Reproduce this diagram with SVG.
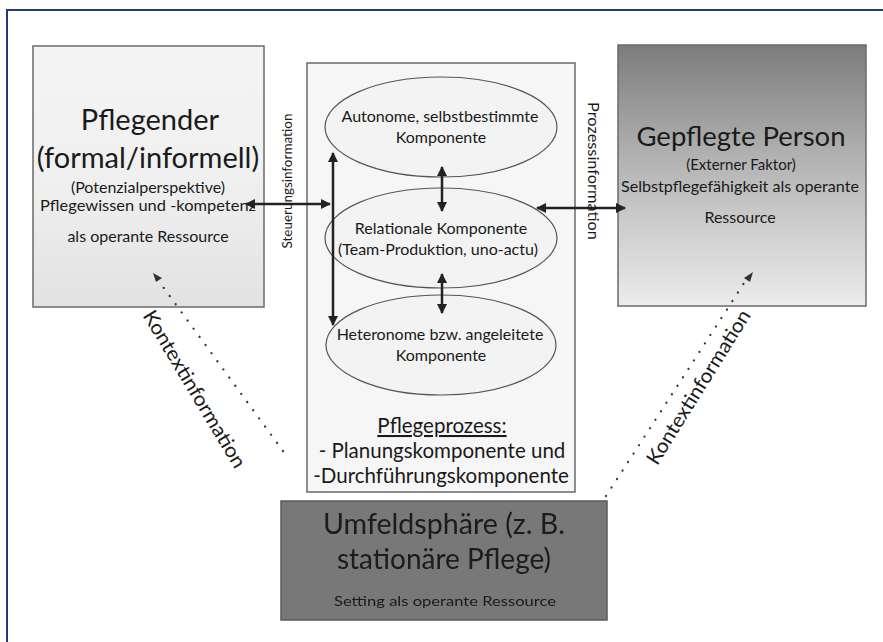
<svg xmlns="http://www.w3.org/2000/svg" width="883" height="642" viewBox="0 0 883 642">
<defs>
<linearGradient id="gLeft" x1="0" y1="0" x2="0" y2="1">
<stop offset="0" stop-color="#f4f4f4"/><stop offset="0.5" stop-color="#f0f0f0"/><stop offset="1" stop-color="#e2e2e2"/>
</linearGradient>
<linearGradient id="gRight" x1="0" y1="0" x2="0" y2="1">
<stop offset="0" stop-color="#7c7c7c"/><stop offset="0.45" stop-color="#b4b4b4"/><stop offset="1" stop-color="#ececec"/>
</linearGradient>
<marker id="ah" viewBox="0 0 10 10" refX="9" refY="5" markerWidth="4" markerHeight="4" orient="auto-start-reverse">
<path d="M0,0 L10,5 L0,10 z" fill="#222"/>
</marker>
<filter id="blur" x="-5%" y="-20%" width="110%" height="140%"><feGaussianBlur stdDeviation="0.6"/></filter>
</defs>
<style>
text{font-family:Lato,"Liberation Sans",sans-serif;fill:#1a1a1a;text-anchor:middle}
.box{stroke:#6a6a6a;stroke-width:1.5}
.ell{fill:#f3f3f3;stroke:#555;stroke-width:1.2}
.conn{stroke:#222;stroke-width:2.5;fill:none}
.dot{stroke:#333;stroke-width:2.2;fill:none;stroke-dasharray:0.1 10;stroke-linecap:round}
.s{font-size:16px}
</style>
<rect width="883" height="642" fill="#fff"/>
<path d="M7,700 L7,10 L890,10" fill="none" stroke="#1f3d72" stroke-width="2"/>

<g id="pflegender">
<rect class="box" x="33" y="46" width="231" height="261" fill="url(#gLeft)"/>
<text x="150" y="130" font-size="29">Pflegender</text>
<text x="148" y="168" font-size="29">(formal/informell)</text>
<text x="148" y="193" class="s" font-size="15">(Potenzialperspektive)</text>
<text x="148" y="211" class="s" textLength="216" lengthAdjust="spacingAndGlyphs">Pflegewissen und -kompetenz</text>
<text x="148" y="242" class="s">als operante Ressource</text>
</g>

<g id="pflegeprozess">
<rect class="box" x="307" y="63" width="268" height="429" fill="#f6f6f6"/>
<text x="442" y="433" font-size="20.5" text-decoration="underline">Pflegeprozess:</text>
<text x="442" y="458" font-size="20.5">- Planungskomponente und</text>
<text x="441" y="483" font-size="20.5">-Durchführungskomponente</text>
</g>

<g id="autonome">
<ellipse class="ell" cx="441" cy="127" rx="116" ry="50"/>
<text x="440" y="122" class="s">Autonome, selbstbestimmte</text>
<text x="441" y="143" class="s">Komponente</text>
</g>

<g id="relationale">
<ellipse class="ell" cx="441" cy="238" rx="116" ry="50"/>
<text x="441" y="234" class="s">Relationale Komponente</text>
<text x="438" y="255" class="s">(Team-Produktion, uno-actu)</text>
</g>

<g id="heteronome">
<ellipse class="ell" cx="441" cy="345" rx="115" ry="50"/>
<text x="440" y="340" class="s">Heteronome bzw. angeleitete</text>
<text x="441" y="361" class="s">Komponente</text>
</g>

<g id="gepflegte">
<rect class="box" x="618" y="45" width="248" height="261" fill="url(#gRight)"/>
<text x="741" y="146" font-size="27.5">Gepflegte Person</text>
<text x="741" y="170" font-size="15">(Externer Faktor)</text>
<text x="740" y="192" class="s" textLength="238" lengthAdjust="spacingAndGlyphs">Selbstpflegefähigkeit als operante</text>
<text x="740" y="223" class="s">Ressource</text>
</g>

<g id="umfeld">
<rect x="281" y="501" width="326" height="119" fill="#787878" stroke="#5a5a5a" stroke-width="1.5"/>
<g filter="url(#blur)">
<text x="444" y="534" font-size="28" textLength="242" lengthAdjust="spacingAndGlyphs">Umfeldsphäre (z. B.</text>
<text x="444" y="569" font-size="28">stationäre Pflege)</text>
<text x="445" y="606" font-size="13" textLength="222" lengthAdjust="spacingAndGlyphs">Setting als operante Ressource</text>
</g>
</g>

<g id="connectors">
<line class="conn" x1="246" y1="204" x2="330" y2="204" marker-start="url(#ah)" marker-end="url(#ah)"/>
<line class="conn" x1="333" y1="153" x2="333" y2="325" marker-start="url(#ah)" marker-end="url(#ah)"/>
<line class="conn" x1="442" y1="167" x2="442" y2="211" marker-start="url(#ah)" marker-end="url(#ah)"/>
<line class="conn" x1="442" y1="274" x2="442" y2="313" marker-start="url(#ah)" marker-end="url(#ah)"/>
<line class="conn" x1="537" y1="208" x2="625" y2="208" marker-start="url(#ah)" marker-end="url(#ah)"/>
<path class="dot" d="M283,451 L158,280"/>
<path d="M153,273 L162,278 L156,282 z" fill="#333"/>
<path class="dot" d="M606,496 L746,280"/>
<path d="M753,272 L750,282 L744,278 z" fill="#333"/>
<text x="288" y="181" font-size="14" transform="rotate(-90 288 181)" dominant-baseline="middle" textLength="135" lengthAdjust="spacingAndGlyphs">Steuerungsinformation</text>
<text x="592" y="171" font-size="16" transform="rotate(90 592 171)" dominant-baseline="middle" textLength="138" lengthAdjust="spacingAndGlyphs">Prozessinformation</text>
<text x="193" y="390" font-size="20" transform="rotate(59 193 390)" dominant-baseline="middle" textLength="180" lengthAdjust="spacingAndGlyphs">Kontextinformation</text>
<text x="700" y="388" font-size="20" transform="rotate(-58 700 388)" dominant-baseline="middle" textLength="178" lengthAdjust="spacingAndGlyphs">Kontextinformation</text>
</g>
</svg>
